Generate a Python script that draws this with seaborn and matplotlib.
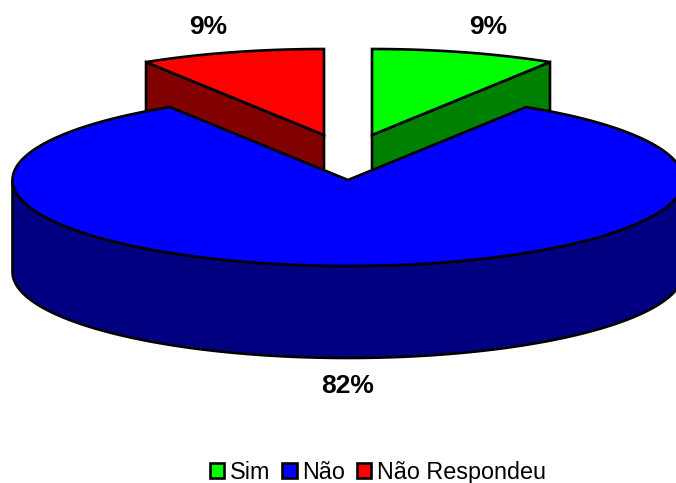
import numpy as np
import matplotlib
matplotlib.use('Agg')
import matplotlib.pyplot as plt
from matplotlib.patches import Patch
import seaborn as sns

categories = ['Sim', 'Não', 'Não Respondeu']
shares = [8.9, 82.2, 8.9]
face_colors = ['#00ff00', '#0000ff', '#ff0000']
side_colors = ['#008000', '#000080', '#800000']

sns.set_theme(style='white')
plt.rcParams['font.family'] = ['Liberation Sans', 'DejaVu Sans']

# pie geometry, in pixels of the picture
cx, cy = 348, 180
rx, ry = 335.5, 86
depth = 92
explode = {0: (24, -45), 2: (-24, -45)}
line_w = 1.9


def rim(a0, a1, dx=0, dy=0):
    # a is clockwise from the top of the pie, in degrees
    a = np.radians(np.linspace(a0, a1, 200))
    return cx + dx + rx * np.sin(a), cy + dy - ry * np.cos(a)


# slice angles from the shares
edges = np.cumsum([0] + shares) / sum(shares) * 360

fig, ax = plt.subplots(figsize=(6.76, 4.83), dpi=100)
ax.set_position([0, 0, 1, 1])
ax.set_xlim(0, 676)
ax.set_ylim(483, 0)
ax.axis('off')

# the two small slices go behind the big one
for i in explode:
    dx, dy = explode[i]
    x, y = rim(edges[i], edges[i + 1], dx, dy)
    ax_x, ax_y = cx + dx, cy + dy
    # outer end of the slice is the one away from the centre line
    ox, oy = (x[-1], y[-1]) if i == 0 else (x[0], y[0])
    ax.fill([ax_x, ox, ox, ax_x], [ax_y, oy, oy + depth, ax_y + depth],
            facecolor=side_colors[i], edgecolor='black', lw=line_w, joinstyle='miter')
    ax.fill(np.r_[ax_x, x], np.r_[ax_y, y], facecolor=face_colors[i],
            edgecolor='black', lw=line_w, joinstyle='miter')

# big slice: wall first, then the top
x, y = rim(90, 270)
ax.fill(np.r_[x, x[::-1]], np.r_[y, y[::-1] + depth], facecolor=side_colors[1],
        edgecolor='black', lw=line_w)
x, y = rim(edges[1], edges[2])
ax.fill(np.r_[cx, x], np.r_[cy, y], facecolor=face_colors[1],
        edgecolor='black', lw=line_w, joinstyle='miter')

# percent labels
label_pos = [(488, 27), (348, 386), (208, 27)]
for v, (lx, ly) in zip(shares, label_pos):
    ax.text(lx, ly, f'{v:.0f}%', ha='center', va='center', fontsize=19,
            fontweight='bold', color='black')

handles = [Patch(facecolor=c, edgecolor='black', lw=line_w) for c in face_colors]
ax.legend(handles, categories, loc='center', bbox_to_anchor=(378, 472.5),
          bbox_transform=ax.transData, ncol=3, frameon=False, fontsize=16.8,
          handlelength=0.62, handleheight=0.62, handletextpad=0.25,
          columnspacing=0.5, borderpad=0, labelcolor='black')

plt.savefig('out.png', dpi=100)
